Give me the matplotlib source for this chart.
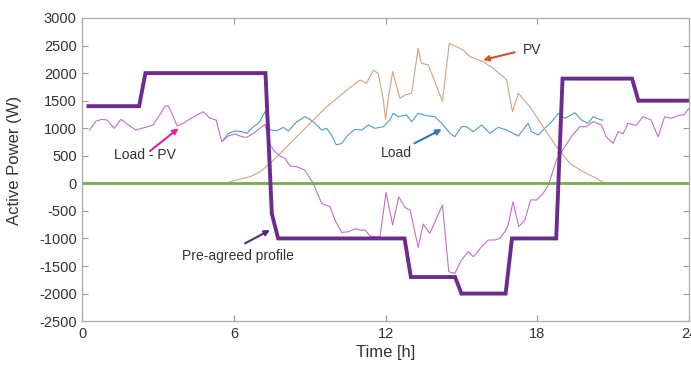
import matplotlib.pyplot as plt
import numpy as np

plt.rcParams["font.family"] = ["Liberation Sans", "DejaVu Sans"]
plt.rcParams["axes.unicode_minus"] = False

# pre-agreed profile (step-like, 15 min ramps)
profile_t = [0.25, 2.25, 2.5, 7.25, 7.5, 7.75, 12.75, 13.0, 14.75, 15.0, 16.75, 17.0,
             18.75, 19.0, 21.75, 22.0, 24.0]
profile_w = [1400, 1400, 2000, 2000, -550, -1000, -1000, -1700, -1700, -2000, -2000, -1000,
             -1000, 1900, 1900, 1500, 1500]

# PV generation
pv_t = [5.8, 5.85, 6.64, 7.04, 7.43, 8.09, 8.62, 9.14, 9.67, 10.2, 10.72, 10.99, 11.25,
        11.51, 11.71, 11.91, 12.0, 12.1, 12.28, 12.44, 12.57, 12.77, 13.03, 13.29, 13.42,
        13.69, 14.25, 14.52, 15.07, 15.34, 15.86, 16.26, 16.79, 17.02, 17.25, 17.71, 18.23,
        18.76, 19.29, 19.81, 20.34, 20.67]
pv_w = [0, 30, 120, 211, 363, 665, 907, 1149, 1390, 1590, 1784, 1875, 1815,
        2056, 1996, 1512, 1160, 1512, 2025, 1753, 1542, 1603, 1633, 2450, 2178,
        2147, 1490, 2541, 2419, 2298, 2207, 2087, 1875, 1299, 1633, 1390, 1027,
        665, 363, 211, 91, 0]

# household load
load_t = [5.6, 5.78, 6.05, 6.31, 6.51, 6.77, 7.0, 7.23, 7.43, 7.7, 7.96, 8.15, 8.49, 8.81,
          9.01, 9.21, 9.47, 9.67, 9.86, 10.05, 10.26, 10.5, 10.79, 11.06, 11.32, 11.58,
          11.91, 12.17, 12.3, 12.5, 12.83, 13.03, 13.29, 13.62, 13.95, 14.22, 14.55, 14.74,
          15.0, 15.2, 15.47, 15.8, 16.13, 16.45, 16.79, 17.25, 17.64, 17.77, 18.04, 18.3,
          18.57, 18.83, 19.09, 19.3, 19.49, 19.75, 20.01, 20.21, 20.54, 20.6]
load_w = [800, 907, 949, 937, 907, 1027, 1100, 1299, 967, 955, 1016, 949, 1118, 1209,
          1160, 1089, 967, 998, 877, 700, 720, 870, 980, 967, 1058, 998,
          1027, 1149, 1270, 1209, 1240, 1118, 1270, 1227, 1209, 1089, 907, 846,
          1027, 1027, 937, 1058, 907, 1016, 967, 860, 1089, 937, 877, 1000,
          1118, 1270, 1180, 1230, 1282, 1149, 1089, 1209, 1149, 1149]

# net load (load - PV)
net_t = [0.29, 0.55, 0.78, 0.98, 1.26, 1.53, 1.83, 2.12, 2.49, 2.8, 3.02, 3.28, 3.41, 3.54,
         3.76, 4.0, 4.3, 4.47, 4.78, 5.06, 5.3, 5.52, 5.78, 6.05, 6.31, 6.51, 6.77, 7.23,
         7.43, 7.63, 7.83, 8.02, 8.22, 8.49, 8.8, 9.14, 9.47, 9.8, 10.0, 10.26, 10.53,
         10.79, 10.99, 11.19, 11.38, 11.58, 11.78, 12.02, 12.28, 12.52, 12.77, 12.97,
         13.29, 13.49, 13.75, 14.25, 14.5, 14.74, 15.0, 15.27, 15.47, 15.8, 16.06, 16.32,
         16.52, 16.72, 16.85, 17.04, 17.27, 17.51, 17.74, 17.97, 18.25, 18.45, 18.76,
         19.09, 19.35, 19.68, 19.95, 20.21, 20.54, 20.73, 21.0, 21.2, 21.4, 21.59, 21.9,
         22.19, 22.5, 22.78, 23.04, 23.3, 23.64, 23.8, 24.0]
net_w = [967, 1130, 1160, 1149, 998, 1160, 1058, 967, 1016, 1058, 1209, 1403, 1403, 1270,
         1040, 1089, 1180, 1221, 1299, 1180, 1149, 755, 860, 895, 846, 835, 907, 1071,
         695, 574, 495, 454, 314, 301, 241, 0, -363, -425, -666, -890, -878,
         -825, -848, -848, -955, -969, -969, -165, -757, -243, -440, -485,
         -1165, -740, -908, -394, -1604, -1634, -1392, -1241, -1332, -1151, -1029, -1029,
         -998, -878, -757, -333, -787, -666, -300, -303, -170, -20, 423,
         665, 846, 1027, 1027, 1118, 1058, 846, 726, 937, 900, 1089, 1050,
         1209, 1150, 846, 1209, 1180, 1240, 1240, 1361]

x_ticks = [0, 6, 12, 18, 24]
y_ticks = np.arange(-2500, 3001, 500)

fig = plt.figure(figsize=(6.91, 3.67), dpi=100)
ax = fig.add_axes([0.119, 0.125, 0.878, 0.826])

ax.plot(load_t, load_w, color="#4a9fc4", lw=0.8)
ax.plot(pv_t, pv_w, color="#d9a07a", lw=0.8)
ax.plot(net_t, net_w, color="#c76ccf", lw=0.8)
ax.plot([0, 24], [0, 0], color="#74b043", lw=2.0)
ax.plot(profile_t, profile_w, color="#6e2a8e", lw=2.8, solid_joinstyle="miter")

# labels with arrows
arrow = dict(arrowstyle="-|>", lw=1.5, mutation_scale=8, shrinkA=0, shrinkB=0)
ax.annotate("", xy=(3.81, 998), xytext=(2.68, 586), arrowprops=dict(arrow, color="#e0259a"))
ax.text(2.49, 514, "Load - PV", ha="center", va="center", fontsize=10, color="#333333")
ax.annotate("", xy=(14.22, 980), xytext=(13.14, 726), arrowprops=dict(arrow, color="#2b7bb3"))
ax.text(12.43, 556, "Load", ha="center", va="center", fontsize=10, color="#333333")
ax.annotate("", xy=(15.86, 2238), xytext=(17.11, 2378), arrowprops=dict(arrow, color="#d3542a"))
ax.text(17.81, 2420, "PV", ha="center", va="center", fontsize=10, color="#333333")
ax.annotate("", xy=(7.43, -848), xytext=(6.44, -1089), arrowprops=dict(arrow, color="#5a2a78"))
ax.text(6.17, -1319, "Pre-agreed profile", ha="center", va="center", fontsize=10,
        color="#333333")

ax.set_xlim(0, 24)
ax.set_ylim(-2500, 3000)
ax.set_xticks(x_ticks)
ax.set_yticks(y_ticks)
ax.tick_params(direction="in", top=True, right=True, labelsize=10.5, colors="#999999",
               labelcolor="#333333", length=4, pad=4)
for s in ax.spines.values():
    s.set_color("#aaaaaa")
    s.set_linewidth(0.9)

ax.set_xlabel("Time [h]", fontsize=12, color="#333333", labelpad=3)
ax.set_ylabel("Active Power (W)", fontsize=12, color="#333333", labelpad=3)
ax.yaxis.set_label_coords(-0.1, 0.53)

plt.savefig("out.png", dpi=100)
plt.close()
